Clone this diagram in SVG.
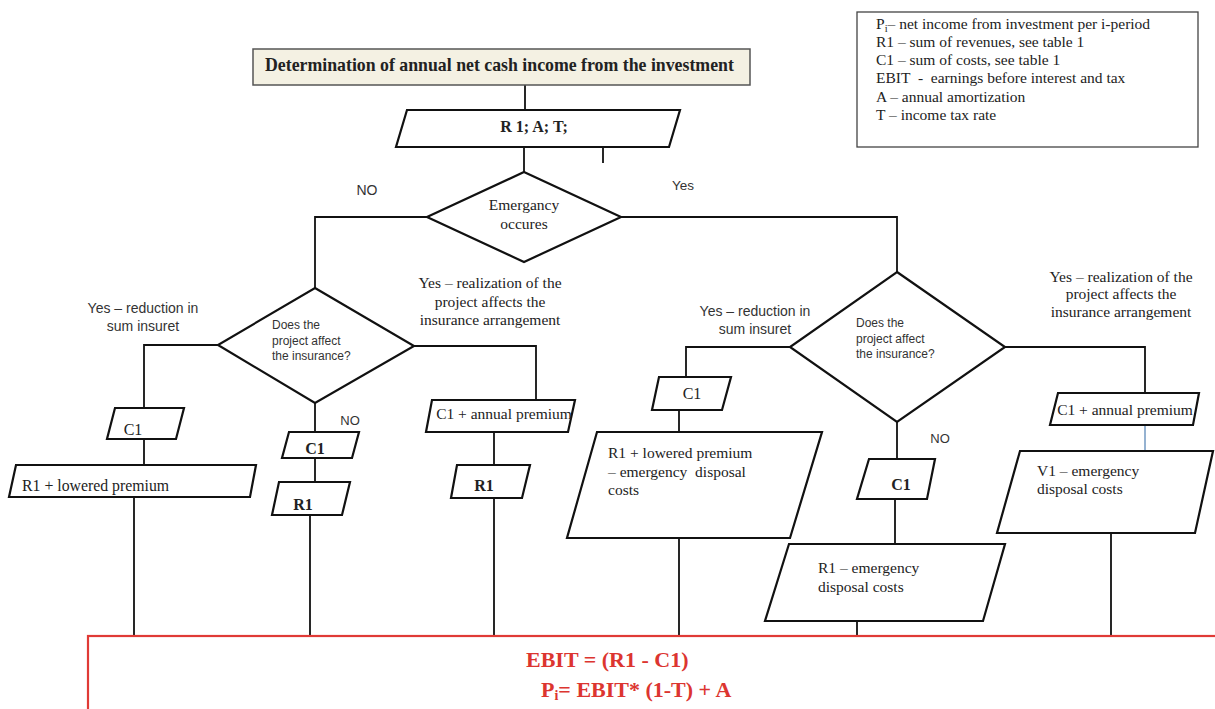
<svg xmlns="http://www.w3.org/2000/svg" width="1215" height="709" viewBox="0 0 1215 709">
<style>
.sh{fill:#fff;stroke:#111;stroke-width:2.2;stroke-linejoin:miter}
.cn{fill:none;stroke:#111;stroke-width:1.8}
.sf{font-family:"Liberation Serif","Times New Roman",serif;fill:#222}
.ss{font-family:"Liberation Sans",Arial,sans-serif;fill:#333}
.b{font-weight:bold}
.red{font-family:"Liberation Serif","Times New Roman",serif;font-weight:bold;fill:#dc3530;font-size:22px}
</style>
<rect width="1215" height="709" fill="#fff"/>
<g id="connectors">
<path class="cn" d="M525,85V110M524,147V172M603,147V163"/>
<path class="cn" d="M427,217H315V288M621,217H897V272"/>
<path class="cn" d="M218,345H144V408M144,431V465M315,403V432M315,458V482M414,346H536V400M494,431V465"/>
<path class="cn" d="M134,497V637M310,515V637M494,498V637"/>
<path class="cn" d="M790,347H686V377M679,409V432M679,538V637M897,422V459M895,499V544M857,621V637M1005,347H1145V393M1111,533V637"/>
<path d="M1145,425V451" fill="none" stroke="#8aaacc" stroke-width="1.8"/>
</g>
<g id="legend">
<rect x="857" y="12" width="341" height="135" fill="#fff" stroke="#444" stroke-width="1.3"/>
<g class="sf" font-size="15.5">
<text x="876" y="29">P<tspan font-size="10.5" dy="3">i</tspan><tspan dy="-3">– net income from investment per i-period</tspan></text>
<text x="876" y="47">R1 – sum of revenues, see table 1</text>
<text x="876" y="65">C1 – sum of costs, see table 1</text>
<text x="876" y="83" xml:space="preserve">EBIT  -  earnings before interest and tax</text>
<text x="876" y="102">A – annual amortization</text>
<text x="876" y="120">T – income tax rate</text>
</g>
</g>
<g id="title">
<rect x="253" y="49" width="497" height="36" fill="#f4f1e3" stroke="#555" stroke-width="1.5"/>
<text class="sf b" x="265" y="71" font-size="17.8">Determination of annual net cash income from the investment</text>
</g>
<g id="input">
<polygon class="sh" points="407,110 680,110 669,147 396,147"/>
<text class="sf b" x="534" y="132" font-size="16" text-anchor="middle">R 1; A; T;</text>
</g>
<g id="emergency">
<polygon class="sh" points="524,172 621,217 524,262 427,217"/>
<text class="sf" x="524" y="210" font-size="15.5" text-anchor="middle" fill="#444">Emergancy</text>
<text class="sf" x="524" y="229" font-size="15.5" text-anchor="middle" fill="#444">occures</text>
</g>
<g id="labels-top" class="ss" font-size="14">
<text x="367" y="195" text-anchor="middle">NO</text>
<text x="683" y="190" text-anchor="middle" font-size="13.5">Yes</text>
</g>
<g id="left-decision">
<polygon class="sh" points="315,288 414,346 315,403 218,345"/>
<g class="ss" font-size="12" fill="#333">
<text x="272" y="329">Does the</text>
<text x="272" y="345">project affect</text>
<text x="272" y="360">the insurance?</text>
</g>
</g>
<g id="left-labels">
<text class="ss" x="143" y="313" font-size="14" text-anchor="middle">Yes – reduction in</text>
<text class="ss" x="143" y="331" font-size="14" text-anchor="middle">sum insuret</text>
<text class="sf" x="490" y="288" font-size="15.5" text-anchor="middle">Yes – realization of the</text>
<text class="sf" x="490" y="307" font-size="15.5" text-anchor="middle">project affects the</text>
<text class="sf" x="490" y="325" font-size="15.5" text-anchor="middle">insurance arrangement</text>
<text class="ss" x="350" y="425" font-size="13" text-anchor="middle">NO</text>
</g>
<g id="l-c1">
<polygon class="sh" points="115,408 184,408 176,439 107,439"/>
<text class="sf" x="133" y="435" font-size="16" text-anchor="middle">C1</text>
</g>
<g id="l-r1-lowered">
<polygon class="sh" points="16,465 256,465 250,497 9,497"/>
<text class="sf" x="22" y="491" font-size="15.8">R1 + lowered premium</text>
</g>
<g id="m-c1">
<polygon class="sh" points="289,432 359,432 352,458 282,458"/>
<text class="sf b" x="315" y="454" font-size="16" text-anchor="middle">C1</text>
</g>
<g id="m-r1">
<polygon class="sh" points="279,482 350,482 342,515 272,515"/>
<text class="sf b" x="303" y="510" font-size="16" text-anchor="middle">R1</text>
</g>
<g id="l-c1-premium">
<polygon class="sh" points="432,400 575,400 568,432 426,432"/>
<text class="sf" x="504" y="419" font-size="15.5" text-anchor="middle">C1 + annual premium</text>
</g>
<g id="r-r1">
<polygon class="sh" points="457,465 530,465 522,498 451,498"/>
<text class="sf b" x="484" y="491" font-size="16" text-anchor="middle">R1</text>
</g>
<g id="right-decision">
<polygon class="sh" points="897,272 1005,347 897,422 790,347"/>
<g class="ss" font-size="12" fill="#333">
<text x="856" y="327">Does the</text>
<text x="856" y="343">project affect</text>
<text x="856" y="358">the insurance?</text>
</g>
</g>
<g id="right-labels">
<text class="ss" x="755" y="316" font-size="14" text-anchor="middle">Yes – reduction in</text>
<text class="ss" x="755" y="334" font-size="14" text-anchor="middle">sum insuret</text>
<text class="sf" x="1121" y="282" font-size="15.5" text-anchor="middle">Yes – realization of the</text>
<text class="sf" x="1121" y="299" font-size="15.5" text-anchor="middle">project affects the</text>
<text class="sf" x="1121" y="317" font-size="15.5" text-anchor="middle">insurance arrangement</text>
<text class="ss" x="940" y="443" font-size="13" text-anchor="middle">NO</text>
</g>
<g id="rl-c1">
<polygon class="sh" points="659,377 731,377 722,410 652,410"/>
<text class="sf" x="692" y="399" font-size="16" text-anchor="middle">C1</text>
</g>
<g id="rl-r1-lowered">
<polygon class="sh" points="597,432 822,432 790,538 567,538"/>
<text class="sf" x="608" y="458" font-size="15.5">R1 + lowered premium</text>
<text class="sf" x="608" y="477" font-size="15.5" xml:space="preserve">– emergency  disposal</text>
<text class="sf" x="608" y="495" font-size="15.5">costs</text>
</g>
<g id="rm-c1">
<polygon class="sh" points="869,459 935,459 927,499 857,499"/>
<text class="sf b" x="901" y="490" font-size="16" text-anchor="middle">C1</text>
</g>
<g id="rm-r1-emergency">
<polygon class="sh" points="789,544 1005,544 983,621 765,621"/>
<text class="sf" x="818" y="573" font-size="15.5">R1 – emergency</text>
<text class="sf" x="818" y="592" font-size="15.5">disposal costs</text>
</g>
<g id="rr-c1-premium">
<polygon class="sh" points="1058,393 1199,393 1193,425 1050,425"/>
<text class="sf" x="1125" y="415" font-size="15.5" text-anchor="middle">C1 + annual premium</text>
</g>
<g id="rr-v1">
<polygon class="sh" points="1020,451 1213,451 1195,533 997,533"/>
<text class="sf" x="1037" y="476" font-size="15.5">V1 – emergency</text>
<text class="sf" x="1037" y="494" font-size="15.5">disposal costs</text>
</g>
<g id="result">
<rect x="88" y="636" width="1140" height="90" fill="#fff" stroke="#e03a36" stroke-width="2.2"/>
<text class="red" x="526" y="667">EBIT = (R1 - C1)</text>
<text class="red" x="541" y="697">P<tspan font-size="14" dy="3">i</tspan><tspan dy="-3">= EBIT* (1-T) + A</tspan></text>
</g>
</svg>
